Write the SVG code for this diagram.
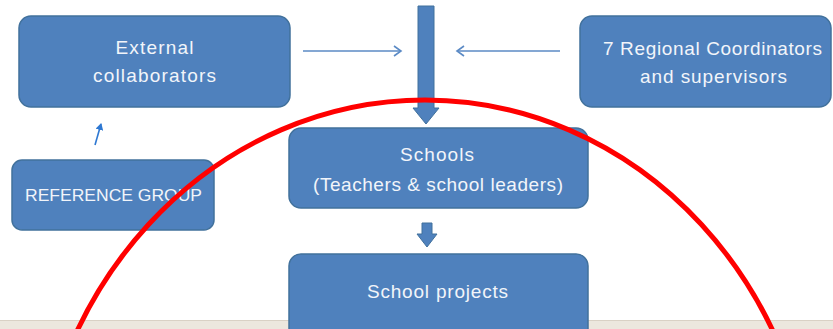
<svg xmlns="http://www.w3.org/2000/svg" width="833" height="329" viewBox="0 0 833 329">
<style>
.box{fill:#4f81bd;stroke:#41719c;stroke-width:1.5}
.t{font-family:"Liberation Sans",Arial,sans-serif;font-size:19px;fill:#f2f5fa;text-anchor:middle}
.s{font-size:17px}
.ln{stroke:#5b8ac5;stroke-width:1.6;fill:none}
.blk{fill:#4f81bd;stroke:#41719c;stroke-width:1}
</style>
<defs>
<marker id="open" markerWidth="12" markerHeight="12" refX="9" refY="6" orient="auto" markerUnits="userSpaceOnUse">
<path d="M2,1 L9,6 L2,11" fill="none" stroke="#5b8ac5" stroke-width="1.6"/>
</marker>
<marker id="small" markerWidth="8" markerHeight="8" refX="6" refY="4" orient="auto" markerUnits="userSpaceOnUse">
<path d="M0,0 L7,4 L0,8 Z" fill="#2e78d2"/>
</marker>
</defs>
<rect x="0" y="0" width="833" height="329" fill="#ffffff"/>
<rect id="bottom-bar" x="0" y="320" width="833" height="9" fill="#ece7de"/>
<line x1="0" y1="320.5" x2="833" y2="320.5" stroke="#d9d1c5" stroke-width="1"/>
<g id="connectors">
<line class="ln" x1="303" y1="51" x2="401" y2="51" marker-end="url(#open)"/>
<line class="ln" x1="560" y1="51" x2="457" y2="51" marker-end="url(#open)"/>
<line x1="95" y1="145" x2="101" y2="124" stroke="#2e78d2" stroke-width="1.6" marker-end="url(#small)"/>
<path class="blk" d="M418,6 H434 V108 H439 L426,124 L413,108 H418 Z"/>
<path class="blk" d="M422,223 H432 V234 H437 L427,247 L417,234 H422 Z"/>
</g>
<g id="external">
<rect class="box" x="19" y="16" width="271" height="91" rx="12"/>
<text class="t" x="154.5" y="54" textLength="78" lengthAdjust="spacing">External</text>
<text class="t" x="154.5" y="82" textLength="123" lengthAdjust="spacing">collaborators</text>
</g>
<g id="regional">
<rect class="box" x="580" y="16" width="251" height="91" rx="12"/>
<text class="t" x="712.5" y="55" textLength="219" lengthAdjust="spacing">7 Regional Coordinators</text>
<text class="t" x="713.5" y="83" textLength="147" lengthAdjust="spacing">and supervisors</text>
</g>
<g id="reference">
<rect class="box" x="12" y="160" width="202" height="70" rx="10"/>
<text class="t s" x="113.5" y="201" textLength="177" lengthAdjust="spacingAndGlyphs">REFERENCE GROUP</text>
</g>
<g id="schools">
<rect class="box" x="289" y="128" width="299" height="80" rx="12"/>
<text class="t" x="437" y="161" textLength="74" lengthAdjust="spacing">Schools</text>
<text class="t" x="438" y="191" textLength="250" lengthAdjust="spacing">(Teachers &amp; school leaders)</text>
</g>
<g id="projects">
<rect class="box" x="289" y="254" width="299" height="90" rx="12"/>
<text class="t" x="437.5" y="298" textLength="141" lengthAdjust="spacing">School projects</text>
</g>
<ellipse id="red-circle" cx="425" cy="525" rx="391" ry="425" fill="none" stroke="#ff0000" stroke-width="5"/>
</svg>
